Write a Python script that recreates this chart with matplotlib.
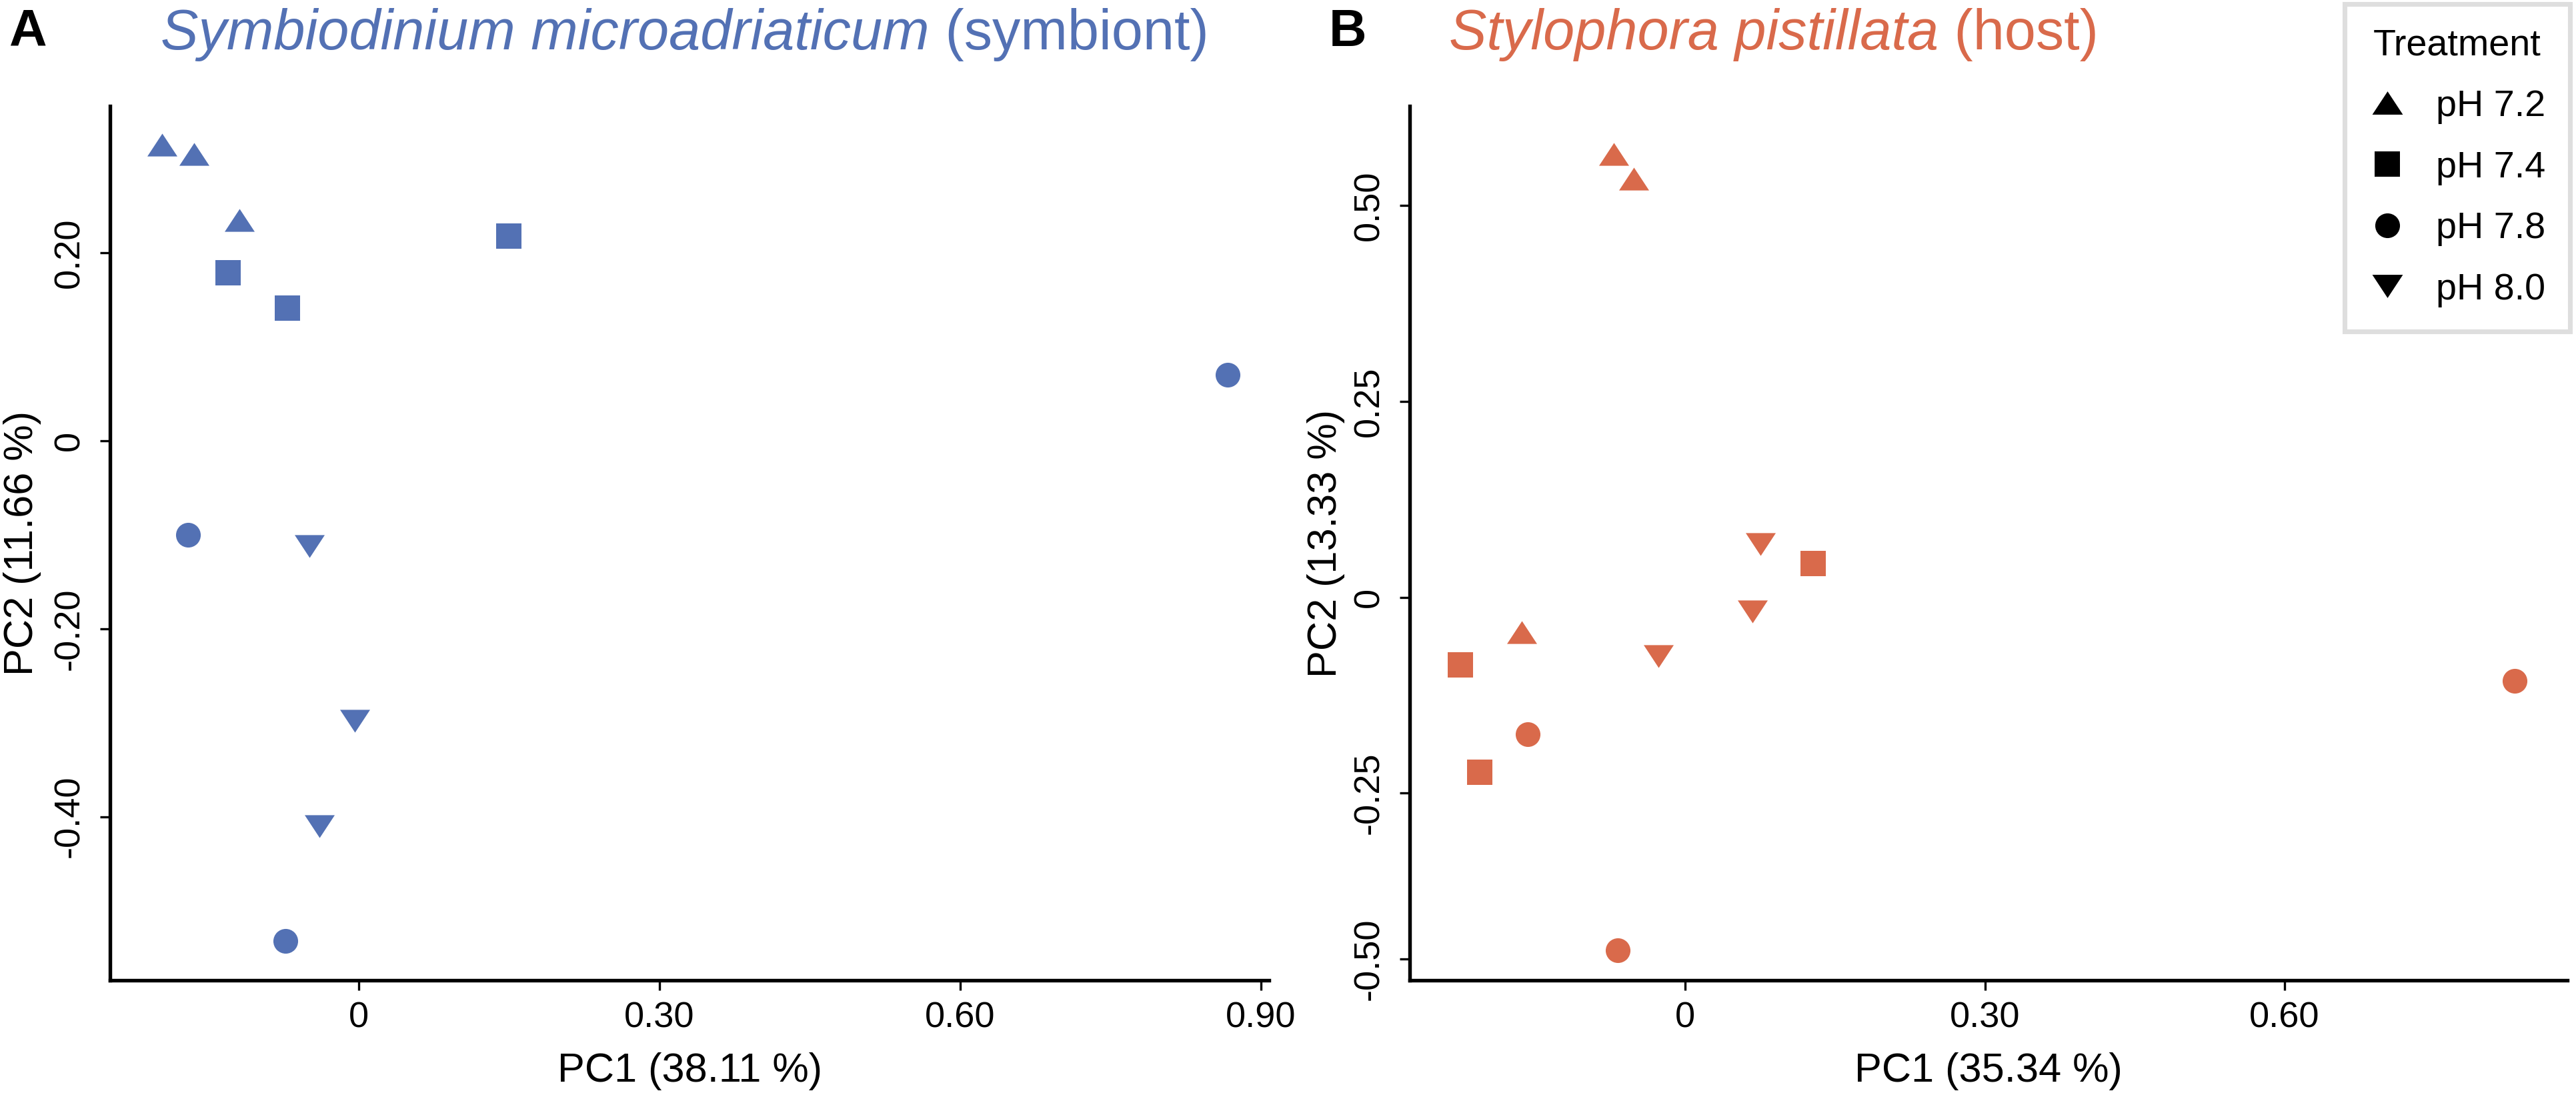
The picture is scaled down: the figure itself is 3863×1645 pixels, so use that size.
import matplotlib
matplotlib.use('Agg')
import matplotlib.pyplot as plt
from matplotlib.lines import Line2D
import numpy as np

plt.rcParams['font.family'] = ['Liberation Sans', 'DejaVu Sans']

# 처리군 (pH) 이름
treatments = ['pH 7.2', 'pH 7.4', 'pH 7.8', 'pH 8.0']

# A: Symbiodinium microadriaticum (symbiont), 처리군 순서대로 세 점씩
sym_pc1 = [[-0.196, -0.164, -0.119],
           [-0.130, -0.071, 0.150],
           [-0.170, -0.073, 0.867],
           [-0.049, -0.004, -0.039]]
sym_pc2 = [[0.315, 0.305, 0.235],
           [0.179, 0.141, 0.218],
           [-0.100, -0.532, 0.070],
           [-0.112, -0.298, -0.410]]

# B: Stylophora pistillata (host)
host_pc1 = [[-0.072, -0.052, -0.164],
            [-0.225, -0.206, 0.128],
            [-0.158, -0.068, 0.830],
            [0.075, 0.067, -0.027]]
host_pc2 = [[0.566, 0.534, -0.045],
            [-0.086, -0.223, 0.043],
            [-0.175, -0.451, -0.107],
            [0.068, -0.018, -0.075]]

sym_xticks = [0, 0.30, 0.60, 0.90]
sym_xlabels = ['0', '0.30', '0.60', '0.90']
sym_yticks = [-0.40, -0.20, 0, 0.20]
sym_ylabels = ['-0.40', '-0.20', '0', '0.20']
host_xticks = [0, 0.30, 0.60]
host_xlabels = ['0', '0.30', '0.60']
# 원본 그림에서 -0.50 눈금은 아래쪽으로 조금 당겨져 그려져 있음
host_yticks = [-0.462, -0.25, 0, 0.25, 0.50]
host_ylabels = ['-0.50', '-0.25', '0', '0.25', '0.50']

blue = '#5371b4'
orange = '#d96a4b'

# ggplot 느낌의 납작한 삼각형 마커
tri_up = [(-1, -0.76), (1, -0.76), (0, 0.76), (-1, -0.76)]
tri_down = [(-1, 0.76), (1, 0.76), (0, -0.76), (-1, 0.76)]
markers = [tri_up, 's', 'o', tri_down]
msizes = [10.8, 9.0, 8.9, 10.8]

W, H = 3863, 1645
fig = plt.figure(figsize=(W / 300, H / 300), dpi=300)

def px_box(l, t, r, b):
    return [l / W, 1 - b / H, (r - l) / W, (b - t) / H]

ax1 = fig.add_axes(px_box(165, 159, 1903, 1470))
ax2 = fig.add_axes(px_box(2114, 159, 3850, 1470))

panels = [
    (ax1, sym_pc1, sym_pc2, blue, (-0.248, 0.908), (-0.574, 0.356),
     sym_xticks, sym_xlabels, sym_yticks, sym_ylabels, 'PC1 (38.11 %)', 'PC2 (11.66 %)', -0.059),
    (ax2, host_pc1, host_pc2, orange, (-0.276, 0.883), (-0.489, 0.627),
     host_xticks, host_xlabels, host_yticks, host_ylabels, 'PC1 (35.34 %)', 'PC2 (13.33 %)', -0.056),
]

for ax, xs, ys, col, xl, yl, xt, xtl, yt, ytl, xlab, ylab, ylx in panels:
    for i in range(len(treatments)):
        ax.plot(xs[i], ys[i], linestyle='none', marker=markers[i], ms=msizes[i],
                color=col, mew=0)
    ax.set_xlim(xl)
    ax.set_ylim(yl)
    ax.set_xticks(xt, xtl)
    ax.set_yticks(yt, ytl)
    ax.spines['top'].set_visible(False)
    ax.spines['right'].set_visible(False)
    ax.spines['left'].set_linewidth(1.3)
    ax.spines['bottom'].set_linewidth(1.3)
    ax.tick_params(axis='both', direction='out', length=3.5, width=0.8, labelsize=13)
    ax.tick_params(axis='x', pad=4)
    ax.tick_params(axis='y', pad=5, labelrotation=90)
    for lab in ax.get_yticklabels():
        lab.set_va('center')
    ax.set_xlabel(xlab, fontsize=14.7)
    ax.set_ylabel(ylab, fontsize=14.7)
    ax.xaxis.set_label_coords(0.5, -0.082)
    ax.yaxis.set_label_coords(ylx, 0.5)

# 패널 문자
fig.text(13 / W, 1 - 69 / H, 'A', fontsize=18.8, fontweight='bold', va='baseline')
fig.text(1993 / W, 1 - 69 / H, 'B', fontsize=18.8, fontweight='bold', va='baseline')

# 제목 (이탤릭 학명 + 일반 글씨)
renderer = fig.canvas.get_renderer()
for x0, sp, rest, col in [(241, 'Symbiodinium microadriaticum', ' (symbiont)', blue),
                          (2173, 'Stylophora pistillata', ' (host)', orange)]:
    t1 = fig.text(x0 / W, 1 - 74 / H, sp, fontsize=20.3, style='italic', color=col, va='baseline')
    bb = t1.get_window_extent(renderer=renderer)
    fig.text(bb.x1 / W, 1 - 74 / H, rest, fontsize=20.3, color=col, va='baseline')

# 범례
handles = [Line2D([], [], linestyle='none', marker=markers[i], ms=[11, 8.9, 8.9, 11][i],
                  color='black', mew=0) for i in range(len(treatments))]
leg = fig.legend(handles, treatments, title='Treatment', loc='upper right',
                 bbox_to_anchor=(3854 / W, 1 - 6 / H), fontsize=13.4, title_fontsize=13.4,
                 frameon=True, fancybox=False, edgecolor='#dedede', framealpha=1,
                 borderpad=0.65, labelspacing=0.71, handlelength=1.0, handletextpad=0.82,
                 borderaxespad=0)
leg.get_frame().set_linewidth(1.7)

fig.savefig('out.png', dpi=300)
